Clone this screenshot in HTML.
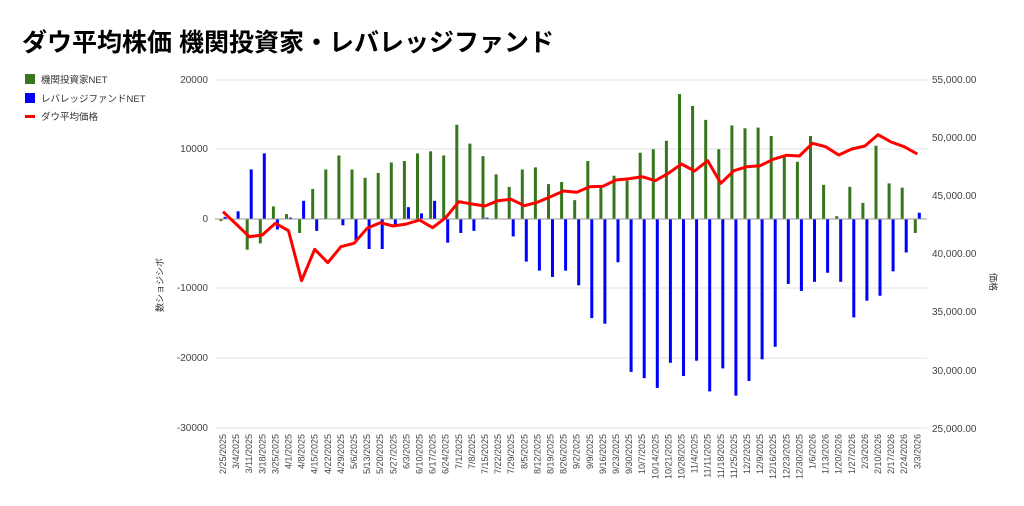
<!DOCTYPE html>
<html><head><meta charset="utf-8"><style>
html,body{margin:0;padding:0;background:#fff;}
svg{display:block;font-family:"Liberation Sans","Noto Sans CJK JP",sans-serif;}
</style></head><body>
<svg width="1024" height="506" viewBox="0 0 1024 506" xmlns="http://www.w3.org/2000/svg">
<text x="22" y="51" font-size="25" font-weight="bold" fill="#000">ダウ平均株価 機関投資家・レバレッジファンド</text>
<rect x="25" y="74" width="10" height="10" fill="#38761d"/>
<text x="41" y="83" font-size="9.5" fill="#333">機関投資家NET</text>
<rect x="25" y="93" width="10" height="10" fill="#0000ff"/>
<text x="41" y="102" font-size="9.5" fill="#333">レバレッジファンドNET</text>
<rect x="25" y="115" width="10" height="3" fill="#ff0000"/>
<text x="41" y="120" font-size="9.5" fill="#333">ダウ平均価格</text>
<g stroke="#e0e0e0" stroke-width="1">
<line x1="215" x2="927" y1="80" y2="80"/><line x1="215" x2="927" y1="149" y2="149"/><line x1="215" x2="927" y1="288" y2="288"/><line x1="215" x2="927" y1="358" y2="358"/><line x1="215" x2="927" y1="428" y2="428"/>
</g>
<g font-size="10" fill="#444" text-anchor="end">
<text x="208" y="83">20000</text><text x="208" y="152">10000</text><text x="208" y="222">0</text><text x="208" y="291">-10000</text><text x="208" y="361">-20000</text><text x="208" y="431">-30000</text>
</g>
<g font-size="10" fill="#444">
<text x="932" y="83">55,000.00</text><text x="932" y="141">50,000.00</text><text x="932" y="199">45,000.00</text><text x="932" y="257">40,000.00</text><text x="932" y="315">35,000.00</text><text x="932" y="374">30,000.00</text><text x="932" y="432">25,000.00</text>
</g>
<text transform="translate(163,285) rotate(-90)" font-size="9" fill="#333" text-anchor="middle">数ショジシボ</text>
<text transform="translate(990,282) rotate(90)" font-size="9" fill="#333" text-anchor="middle">価格</text>
<g transform="translate(0,219) scale(1,-0.00698)" fill="#38761d">
<rect x="219.5" y="-300" width="3" height="300"/>
<rect x="245.7" y="-4400" width="3" height="4400"/>
<rect x="258.8" y="-3500" width="3" height="3500"/>
<rect x="271.9" y="0" width="3" height="1800"/>
<rect x="285" y="0" width="3" height="700"/>
<rect x="298.1" y="-2000" width="3" height="2000"/>
<rect x="311.2" y="0" width="3" height="4300"/>
<rect x="324.3" y="0" width="3" height="7100"/>
<rect x="337.4" y="0" width="3" height="9100"/>
<rect x="350.5" y="0" width="3" height="7100"/>
<rect x="363.6" y="0" width="3" height="5900"/>
<rect x="376.7" y="0" width="3" height="6600"/>
<rect x="389.8" y="0" width="3" height="8100"/>
<rect x="402.9" y="0" width="3" height="8300"/>
<rect x="416" y="0" width="3" height="9400"/>
<rect x="429.1" y="0" width="3" height="9700"/>
<rect x="442.2" y="0" width="3" height="9100"/>
<rect x="455.3" y="0" width="3" height="13500"/>
<rect x="468.4" y="0" width="3" height="10800"/>
<rect x="481.5" y="0" width="3" height="9000"/>
<rect x="494.6" y="0" width="3" height="6400"/>
<rect x="507.7" y="0" width="3" height="4600"/>
<rect x="520.8" y="0" width="3" height="7100"/>
<rect x="533.9" y="0" width="3" height="7400"/>
<rect x="547" y="0" width="3" height="5000"/>
<rect x="560.1" y="0" width="3" height="5300"/>
<rect x="573.2" y="0" width="3" height="2700"/>
<rect x="586.3" y="0" width="3" height="8300"/>
<rect x="599.4" y="0" width="3" height="4600"/>
<rect x="612.5" y="0" width="3" height="6200"/>
<rect x="625.6" y="0" width="3" height="5500"/>
<rect x="638.7" y="0" width="3" height="9500"/>
<rect x="651.8" y="0" width="3" height="10000"/>
<rect x="664.9" y="0" width="3" height="11200"/>
<rect x="678" y="0" width="3" height="17900"/>
<rect x="691.1" y="0" width="3" height="16200"/>
<rect x="704.2" y="0" width="3" height="14200"/>
<rect x="717.3" y="0" width="3" height="10000"/>
<rect x="730.4" y="0" width="3" height="13400"/>
<rect x="743.5" y="0" width="3" height="13000"/>
<rect x="756.6" y="0" width="3" height="13100"/>
<rect x="769.7" y="0" width="3" height="11900"/>
<rect x="782.8" y="0" width="3" height="8900"/>
<rect x="795.9" y="0" width="3" height="8200"/>
<rect x="809" y="0" width="3" height="11900"/>
<rect x="822.1" y="0" width="3" height="4900"/>
<rect x="835.2" y="0" width="3" height="400"/>
<rect x="848.3" y="0" width="3" height="4600"/>
<rect x="861.4" y="0" width="3" height="2300"/>
<rect x="874.5" y="0" width="3" height="10500"/>
<rect x="887.6" y="0" width="3" height="5100"/>
<rect x="900.7" y="0" width="3" height="4500"/>
<rect x="913.8" y="-2000" width="3" height="2000"/>
</g>
<g transform="translate(4,219) scale(1,-0.00698)" fill="#0000ff">
<rect x="219.5" y="0" width="3" height="300"/>
<rect x="232.6" y="0" width="3" height="1100"/>
<rect x="245.7" y="0" width="3" height="7100"/>
<rect x="258.8" y="0" width="3" height="9400"/>
<rect x="271.9" y="-1500" width="3" height="1500"/>
<rect x="285" y="0" width="3" height="200"/>
<rect x="298.1" y="0" width="3" height="2600"/>
<rect x="311.2" y="-1700" width="3" height="1700"/>
<rect x="337.4" y="-900" width="3" height="900"/>
<rect x="350.5" y="-3000" width="3" height="3000"/>
<rect x="363.6" y="-4300" width="3" height="4300"/>
<rect x="376.7" y="-4300" width="3" height="4300"/>
<rect x="389.8" y="-800" width="3" height="800"/>
<rect x="402.9" y="0" width="3" height="1700"/>
<rect x="416" y="0" width="3" height="800"/>
<rect x="429.1" y="0" width="3" height="2600"/>
<rect x="442.2" y="-3400" width="3" height="3400"/>
<rect x="455.3" y="-2000" width="3" height="2000"/>
<rect x="468.4" y="-1700" width="3" height="1700"/>
<rect x="481.5" y="0" width="3" height="200"/>
<rect x="507.7" y="-2500" width="3" height="2500"/>
<rect x="520.8" y="-6100" width="3" height="6100"/>
<rect x="533.9" y="-7400" width="3" height="7400"/>
<rect x="547" y="-8300" width="3" height="8300"/>
<rect x="560.1" y="-7400" width="3" height="7400"/>
<rect x="573.2" y="-9500" width="3" height="9500"/>
<rect x="586.3" y="-14200" width="3" height="14200"/>
<rect x="599.4" y="-15000" width="3" height="15000"/>
<rect x="612.5" y="-6200" width="3" height="6200"/>
<rect x="625.6" y="-21900" width="3" height="21900"/>
<rect x="638.7" y="-22800" width="3" height="22800"/>
<rect x="651.8" y="-24200" width="3" height="24200"/>
<rect x="664.9" y="-20600" width="3" height="20600"/>
<rect x="678" y="-22500" width="3" height="22500"/>
<rect x="691.1" y="-20300" width="3" height="20300"/>
<rect x="704.2" y="-24700" width="3" height="24700"/>
<rect x="717.3" y="-21400" width="3" height="21400"/>
<rect x="730.4" y="-25300" width="3" height="25300"/>
<rect x="743.5" y="-23200" width="3" height="23200"/>
<rect x="756.6" y="-20100" width="3" height="20100"/>
<rect x="769.7" y="-18300" width="3" height="18300"/>
<rect x="782.8" y="-9300" width="3" height="9300"/>
<rect x="795.9" y="-10300" width="3" height="10300"/>
<rect x="809" y="-9000" width="3" height="9000"/>
<rect x="822.1" y="-7700" width="3" height="7700"/>
<rect x="835.2" y="-9000" width="3" height="9000"/>
<rect x="848.3" y="-14100" width="3" height="14100"/>
<rect x="861.4" y="-11700" width="3" height="11700"/>
<rect x="874.5" y="-11000" width="3" height="11000"/>
<rect x="887.6" y="-7500" width="3" height="7500"/>
<rect x="900.7" y="-4800" width="3" height="4800"/>
<rect x="913.8" y="0" width="3" height="900"/>
</g>
<line x1="215" x2="927" y1="219" y2="219" stroke="#999" stroke-width="1"/>
<polyline fill="none" stroke="#ff0000" stroke-width="3" stroke-linejoin="round" points="223,211.7 236.1,224 249.2,236.7 262.3,235 275.4,223.3 288.5,230.7 301.6,280.7 314.7,249.3 327.8,262.7 340.9,246.7 354,243.3 367.1,228.3 380.2,222.7 393.3,226 406.4,224 419.5,220 432.6,227.7 445.7,217.7 458.8,201.7 471.9,204 485,206 498.1,200.7 511.2,199.3 524.3,205.7 537.4,202.3 550.5,196.7 563.6,191 576.7,192.3 589.8,186.7 602.9,186.3 616,180 629.1,178.7 642.2,176.7 655.3,180.7 668.4,173.3 681.5,164 694.6,171 707.7,160.7 720.8,183.3 733.9,170.7 747,166.7 760.1,165.7 773.2,159.3 786.3,155.3 799.4,156 812.5,143.3 825.6,146.7 838.7,155 851.8,149 864.9,146 878,134.7 891.1,142 904.2,146.7 917.3,154"/>
<g font-size="9" fill="#444" text-anchor="end">
<text transform="translate(226,434) rotate(-90)">2/25/2025</text>
<text transform="translate(239.1,434) rotate(-90)">3/4/2025</text>
<text transform="translate(252.2,434) rotate(-90)">3/11/2025</text>
<text transform="translate(265.3,434) rotate(-90)">3/18/2025</text>
<text transform="translate(278.4,434) rotate(-90)">3/25/2025</text>
<text transform="translate(291.5,434) rotate(-90)">4/1/2025</text>
<text transform="translate(304.6,434) rotate(-90)">4/8/2025</text>
<text transform="translate(317.7,434) rotate(-90)">4/15/2025</text>
<text transform="translate(330.8,434) rotate(-90)">4/22/2025</text>
<text transform="translate(343.9,434) rotate(-90)">4/29/2025</text>
<text transform="translate(357,434) rotate(-90)">5/6/2025</text>
<text transform="translate(370.1,434) rotate(-90)">5/13/2025</text>
<text transform="translate(383.2,434) rotate(-90)">5/20/2025</text>
<text transform="translate(396.3,434) rotate(-90)">5/27/2025</text>
<text transform="translate(409.4,434) rotate(-90)">6/3/2025</text>
<text transform="translate(422.5,434) rotate(-90)">6/10/2025</text>
<text transform="translate(435.6,434) rotate(-90)">6/17/2025</text>
<text transform="translate(448.7,434) rotate(-90)">6/24/2025</text>
<text transform="translate(461.8,434) rotate(-90)">7/1/2025</text>
<text transform="translate(474.9,434) rotate(-90)">7/8/2025</text>
<text transform="translate(488,434) rotate(-90)">7/15/2025</text>
<text transform="translate(501.1,434) rotate(-90)">7/22/2025</text>
<text transform="translate(514.2,434) rotate(-90)">7/29/2025</text>
<text transform="translate(527.3,434) rotate(-90)">8/5/2025</text>
<text transform="translate(540.4,434) rotate(-90)">8/12/2025</text>
<text transform="translate(553.5,434) rotate(-90)">8/19/2025</text>
<text transform="translate(566.6,434) rotate(-90)">8/26/2025</text>
<text transform="translate(579.7,434) rotate(-90)">9/2/2025</text>
<text transform="translate(592.8,434) rotate(-90)">9/9/2025</text>
<text transform="translate(605.9,434) rotate(-90)">9/16/2025</text>
<text transform="translate(619,434) rotate(-90)">9/23/2025</text>
<text transform="translate(632.1,434) rotate(-90)">9/30/2025</text>
<text transform="translate(645.2,434) rotate(-90)">10/7/2025</text>
<text transform="translate(658.3,434) rotate(-90)">10/14/2025</text>
<text transform="translate(671.4,434) rotate(-90)">10/21/2025</text>
<text transform="translate(684.5,434) rotate(-90)">10/28/2025</text>
<text transform="translate(697.6,434) rotate(-90)">11/4/2025</text>
<text transform="translate(710.7,434) rotate(-90)">11/11/2025</text>
<text transform="translate(723.8,434) rotate(-90)">11/18/2025</text>
<text transform="translate(736.9,434) rotate(-90)">11/25/2025</text>
<text transform="translate(750,434) rotate(-90)">12/2/2025</text>
<text transform="translate(763.1,434) rotate(-90)">12/9/2025</text>
<text transform="translate(776.2,434) rotate(-90)">12/16/2025</text>
<text transform="translate(789.3,434) rotate(-90)">12/23/2025</text>
<text transform="translate(802.4,434) rotate(-90)">12/30/2025</text>
<text transform="translate(815.5,434) rotate(-90)">1/6/2026</text>
<text transform="translate(828.6,434) rotate(-90)">1/13/2026</text>
<text transform="translate(841.7,434) rotate(-90)">1/20/2026</text>
<text transform="translate(854.8,434) rotate(-90)">1/27/2026</text>
<text transform="translate(867.9,434) rotate(-90)">2/3/2026</text>
<text transform="translate(881,434) rotate(-90)">2/10/2026</text>
<text transform="translate(894.1,434) rotate(-90)">2/17/2026</text>
<text transform="translate(907.2,434) rotate(-90)">2/24/2026</text>
<text transform="translate(920.3,434) rotate(-90)">3/3/2026</text>
</g>
</svg>
</body></html>
